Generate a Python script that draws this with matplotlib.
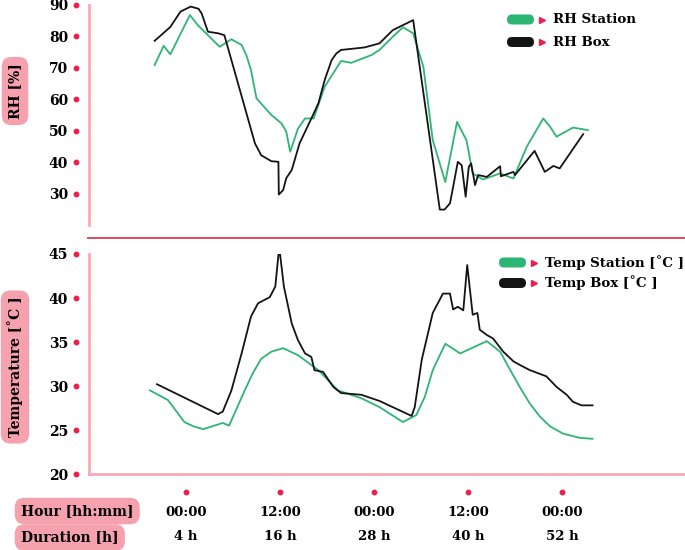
import matplotlib
matplotlib.use('Agg')
import matplotlib.pyplot as plt
from matplotlib.transforms import IdentityTransform, blended_transform_factory
from matplotlib.patches import FancyBboxPatch
from matplotlib.lines import Line2D

# data (time in hours since start)
rh_station_t = [0, 1.15, 2.0, 4.5, 5.5, 8.3, 9.8, 11.1, 11.7, 12.3, 13.0, 14.9, 16.2, 16.8, 17.3,
                18.3, 19.2, 20.3, 21.7, 23.8, 25.1, 27.7, 28.7, 30.4, 31.7, 33.0, 34.3, 35.5,
                37.1, 38.6, 39.8, 40.6, 41.9, 44.1, 45.8, 47.5, 49.6, 50.5, 51.3, 53.4, 55.3]
rh_station = [70.9, 77.0, 74.3, 86.8, 83.6, 76.7, 79.1, 77.3, 74.1, 69.3, 60.3, 55.0, 52.3, 49.7, 43.3,
              50.7, 53.9, 53.9, 64.0, 72.2, 71.6, 74.1, 75.7, 79.9, 82.9, 81.0, 70.4, 47.0,
              33.7, 52.8, 47.0, 36.4, 34.5, 36.4, 34.8, 44.9, 53.9, 51.2, 48.1, 51.0, 50.2]

rh_box_t = [0, 2.0, 3.3, 4.6, 5.6, 6.0, 6.8, 8.1, 8.9, 12.8, 13.6, 14.9, 15.8, 15.85, 16.4,
            16.8, 17.5, 18.5, 19.8, 20.9, 21.7, 22.6, 23.2, 23.8, 26.8, 28.7, 30.4, 33.0, 36.4,
            37.0, 37.7, 38.1, 38.7, 39.2, 39.7, 40.1, 40.4, 40.9, 41.3, 42.4, 44.1, 44.2, 45.8,
            46.0, 48.5, 49.8, 50.9, 51.7, 54.7]
rh_box = [78.6, 83.0, 87.9, 89.5, 88.8, 87.3, 81.5, 81.0, 80.4, 46.0, 42.2, 40.3, 40.1, 29.7, 31.1,
          34.9, 37.5, 46.0, 52.8, 58.7, 66.1, 72.5, 74.6, 75.7, 76.5, 77.8, 82.0, 85.2, 24.9,
          24.9, 26.9, 32.1, 40.1, 39.0, 29.0, 38.5, 39.6, 32.7, 35.9, 35.3, 38.7, 35.5, 36.9,
          35.9, 43.6, 36.9, 38.8, 38.0, 48.9]

temp_station_t = [-0.6, 1.7, 3.8, 5.0, 6.2, 8.7, 9.5, 11.5, 12.5, 13.6, 14.9, 16.4, 18.3, 20.9,
                  23.4, 26.4, 28.7, 31.7, 33.4, 34.5, 35.5, 37.1, 39.0, 42.4, 44.1, 45.4, 46.6,
                  47.9, 49.2, 50.5, 52.1, 54.3, 55.9]
temp_station = [29.5, 28.4, 25.9, 25.4, 25.1, 25.8, 25.5, 29.5, 31.4, 33.1, 33.9, 34.3, 33.5, 31.8,
                29.5, 28.6, 27.6, 25.9, 26.7, 28.8, 31.8, 34.8, 33.7, 35.1, 33.9, 31.8, 29.9,
                28.0, 26.5, 25.4, 24.6, 24.1, 24.0]

temp_box_t = [0.3, 8.1, 8.7, 9.8, 11.1, 12.3, 13.2, 14.7, 15.4, 15.9, 16.5, 17.5, 18.3, 19.2,
              20.0, 20.4, 21.5, 22.8, 23.8, 26.4, 28.7, 32.8, 33.2, 34.1, 35.5, 36.8, 37.7, 38.1,
              38.7, 39.4, 39.9, 40.6, 41.2, 41.5, 42.4, 43.2, 44.5, 45.8, 46.6, 47.9, 50.0, 51.3,
              52.6, 53.4, 54.5, 55.9]
temp_box = [30.2, 26.8, 27.1, 29.5, 33.7, 37.9, 39.4, 40.1, 41.3, 45.8, 41.3, 37.1, 35.2, 33.7,
            33.3, 31.8, 31.6, 29.9, 29.2, 29.0, 28.3, 26.6, 27.6, 33.0, 38.3, 40.5, 40.5, 38.7,
            39.0, 38.6, 43.75, 38.1, 38.3, 36.4, 35.8, 35.4, 33.9, 32.8, 32.4, 31.8, 31.1, 29.9,
            29.0, 28.2, 27.8, 27.8]

xticks = [4, 16, 28, 40, 52]
hour_labels = ['00:00', '12:00', '00:00', '12:00', '00:00']
dur_labels = ['4 h', '16 h', '28 h', '40 h', '52 h']
rh_ticks = [30, 40, 50, 60, 70, 80, 90]
temp_ticks = [20, 25, 30, 35, 40, 45]

GREEN = '#2db673'
BLACK = '#141414'
PINK = '#f6a2ae'
SPINE = '#f9aab6'
RED = '#ec1e4b'
SEP = '#e8475e'

plt.rcParams['font.family'] = 'DejaVu Serif'
plt.rcParams['font.weight'] = 'bold'

W, H = 685, 550
fig = plt.figure(figsize=(W / 100, H / 100), dpi=100)
px = IdentityTransform()

XL = (-8.38, 67.7)
L = 89 / W
AW = (685 - 89) / W

ax1 = fig.add_axes([L, 1 - 225 / H, AW, 220 / H])
ax2 = fig.add_axes([L, 1 - 474 / H, AW, 220 / H])

ax1.plot(rh_station_t, rh_station, color=GREEN, lw=1.3)
ax1.plot(rh_box_t, rh_box, color=BLACK, lw=1.3)
ax2.plot(temp_station_t, temp_station, color=GREEN, lw=1.3)
ax2.plot(temp_box_t, temp_box, color=BLACK, lw=1.3)

ax1.set_ylim(20, 90)
ax2.set_ylim(20, 45)
ax1.set_yticks(rh_ticks)
ax2.set_yticks(temp_ticks)

for ax in (ax1, ax2):
    ax.set_xlim(*XL)
    ax.set_xticks([])
    ax.tick_params(axis='y', length=0, pad=15, labelsize=10)
    for s in ('top', 'right'):
        ax.spines[s].set_visible(False)
    ax.spines['left'].set_color(SPINE)
    ax.spines['left'].set_linewidth(2)
    # red dots as tick marks
    tr = blended_transform_factory(ax.transAxes, ax.transData)
    ax.plot([-13 / 596] * len(ax.get_yticks()), ax.get_yticks(), 'o', ms=3.2,
            color=RED, transform=tr, clip_on=False)

ax1.spines['bottom'].set_visible(False)
ax2.spines['bottom'].set_color(SPINE)
ax2.spines['bottom'].set_linewidth(2)

# separator line between the two panels
fig.add_artist(Line2D([88, 685], [H - 238, H - 238], color=SEP, lw=1.4, transform=px))

# bottom tick dots and two rows of labels
bt = blended_transform_factory(ax2.transData, px)
ax2.plot(xticks, [H - 492] * len(xticks), 'o', ms=3.2, color=RED, transform=bt, clip_on=False)
for x, h, d in zip(xticks, hour_labels, dur_labels):
    ax2.text(x, H - 512, h, transform=bt, ha='center', va='center', fontsize=9.5)
    ax2.text(x, H - 537, d, transform=bt, ha='center', va='center', fontsize=9.5)

box = dict(boxstyle='round,pad=0.45,rounding_size=0.7', fc=PINK, ec='none')
fig.text(21, H - 511, 'Hour [hh:mm]', transform=px, ha='left', va='center', fontsize=10, bbox=box)
fig.text(21, H - 537.5, 'Duration [h]', transform=px, ha='left', va='center', fontsize=10, bbox=box)
fig.text(15, H - 91, 'RH [%]', transform=px, ha='center', va='center', rotation=90,
         fontsize=10, bbox=box)
fig.text(15, H - 367, 'Temperature [˚C ]', transform=px, ha='center', va='center', rotation=90,
         fontsize=10, bbox=box)


def legend_row(x0, yc, color, label):
    fig.add_artist(FancyBboxPatch((x0, H - yc - 5), 27, 10, boxstyle='round,pad=0,rounding_size=5',
                                  fc=color, ec='none', transform=px))
    fig.add_artist(Line2D([x0 + 35], [H - yc], marker='>', ms=5, color=RED, lw=0, transform=px))
    fig.text(x0 + 46, H - yc, label, transform=px, ha='left', va='center', fontsize=9.6)


legend_row(507, 19.5, GREEN, 'RH Station')
legend_row(507, 42, BLACK, 'RH Box')
legend_row(499, 262.5, GREEN, 'Temp Station [˚C ]')
legend_row(499, 283, BLACK, 'Temp Box [˚C ]')

fig.savefig('out.png', dpi=100)
